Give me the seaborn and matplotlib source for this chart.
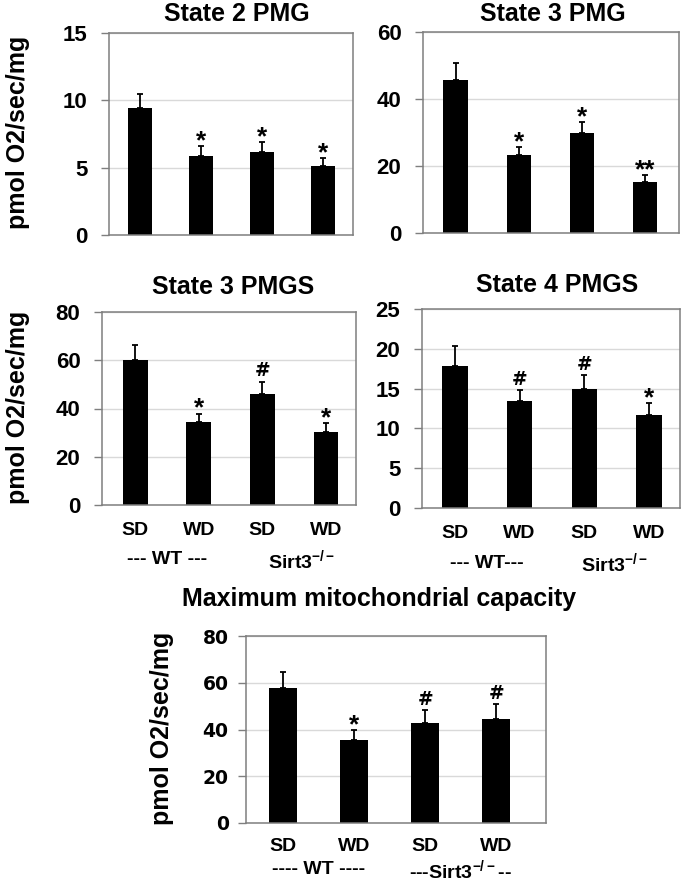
import numpy as np
import pandas as pd
import matplotlib
matplotlib.use("Agg")
import matplotlib.pyplot as plt
import seaborn as sns

# ---------------- data ----------------
groups = ["WT SD", "WT WD", "Sirt3 SD", "Sirt3 WD"]
diet_labels = ["SD", "WD", "SD", "WD"]

s2pmg_mean = [9.45, 5.9, 6.2, 5.1]
s2pmg_err = [1.0, 0.7, 0.7, 0.6]
s2pmg_sig = ["", "*", "*", "*"]
s2pmg_ticks = [0, 5, 10, 15]

s3pmg_mean = [45.6, 23.2, 29.9, 15.3]
s3pmg_err = [5.1, 2.4, 3.2, 1.9]
s3pmg_sig = ["", "*", "*", "**"]
s3pmg_ticks = [0, 20, 40, 60]

s3pmgs_mean = [59.9, 34.3, 45.9, 30.2]
s3pmgs_err = [6.4, 3.6, 5.1, 3.7]
s3pmgs_sig = ["", "*", "#", "*"]
s3pmgs_ticks = [0, 20, 40, 60, 80]

s4pmgs_mean = [17.9, 13.4, 14.9, 11.7]
s4pmgs_err = [2.4, 1.4, 1.8, 1.5]
s4pmgs_sig = ["", "#", "#", "*"]
s4pmgs_ticks = [0, 5, 10, 15, 20, 25]

maxcap_mean = [57.8, 35.5, 42.6, 44.7]
maxcap_err = [6.7, 4.2, 5.7, 6.2]
maxcap_sig = ["", "*", "#", "#"]
maxcap_ticks = [0, 20, 40, 60, 80]

titles = ["State 2 PMG", "State 3 PMG", "State 3 PMGS", "State 4 PMGS",
          "Maximum mitochondrial capacity"]
ylabel = "pmol O2/sec/mg"

# ---------------- style ----------------
sns.set_style("white")
plt.rcParams['font.family'] = ['Liberation Sans', 'DejaVu Sans']
plt.rcParams['mathtext.default'] = 'regular'
plt.rcParams['text.color'] = 'black'
plt.rcParams['xtick.color'] = 'black'
plt.rcParams['ytick.color'] = 'black'
plt.rcParams['axes.labelcolor'] = 'black'

W, H = 685, 883
fig = plt.figure(figsize=(W / 100, H / 100), dpi=100)


def rect(l, t, r, b):
    return [l / W, 1 - b / H, (r - l) / W, (b - t) / H]


SPINE = '#7f7f7f'
GRID = '#d9d9d9'


def panel(box, xlim, means, errs, sigs, ticks, tick_font, tick_size, tick_pad,
          bar_w=0.39, xlabels=False, group_pos=None, group_txt=None,
          group_dy=55, xl_pad=12):
    ax = fig.add_axes(rect(*box))
    df = pd.DataFrame({"group": groups, "value": means})
    sns.barplot(data=df, x="group", y="value", order=groups, color="black",
                saturation=1, width=bar_w, errorbar=None, ax=ax, zorder=2,
                edgecolor="black", linewidth=0)
    x = np.arange(len(means))
    ax.errorbar(x, means, yerr=[np.zeros(len(errs)), errs], fmt='none',
                ecolor='black', elinewidth=1.3, capsize=2.5, capthick=1.3,
                zorder=3)
    for xi, m, e, s in zip(x, means, errs, sigs):
        if s:
            if '*' in s:
                fs, dy, fam = 19, 5, 'Liberation Sans'
            else:
                fs, dy, fam = 13.5, 11, 'DejaVu Sans'
            ax.annotate(s, (xi, m + e), xytext=(0, dy), textcoords='offset pixels',
                        ha='center', va='center', fontsize=fs, family=fam,
                        fontweight='bold', color='black')
    ax.set_xlim(*xlim)
    ax.set_ylim(ticks[0], ticks[-1])
    ax.set_yticks(ticks)
    ax.set_yticklabels([str(t) for t in ticks])
    for lab in ax.get_yticklabels():
        lab.set_fontfamily(tick_font)
        lab.set_fontweight('bold')
        lab.set_fontsize(tick_size)
        lab.set_color('black')
    ax.yaxis.grid(True, color=GRID, lw=1)
    ax.xaxis.grid(False)
    ax.set_axisbelow(True)
    for sp in ax.spines.values():
        sp.set_visible(True)
        sp.set_color(SPINE)
        sp.set_linewidth(1.1)
    ax.tick_params(axis='y', direction='out', length=5.5, width=1,
                   color=SPINE, pad=tick_pad, left=True)
    ax.tick_params(axis='x', length=0, pad=xl_pad)
    ax.set_xlabel("")
    ax.set_ylabel("")
    ax.set_xticks(x)
    if xlabels:
        ax.set_xticklabels(diet_labels)
        for lab in ax.get_xticklabels():
            lab.set_fontweight('bold')
            lab.set_fontsize(14)
            lab.set_color('black')
        for gx, gt in zip(group_pos, group_txt):
            ax.annotate(gt, (gx, 0), xycoords=('data', 'axes fraction'),
                        xytext=(0, -group_dy), textcoords='offset pixels',
                        ha='center', va='center', fontsize=14,
                        fontweight='bold')
    else:
        ax.set_xticklabels([])
    return ax


# panel 1
panel((109, 33, 353, 235), (-0.51, 3.49), s2pmg_mean, s2pmg_err, s2pmg_sig,
      s2pmg_ticks, 'Liberation Sans', 16, 10)
# panel 2
panel((423, 32, 679, 233), (-0.52, 3.54), s3pmg_mean, s3pmg_err, s3pmg_sig,
      s3pmg_ticks, 'Liberation Sans', 16, 10)
# panel 3
panel((102, 312, 356, 505), (-0.52, 3.47), s3pmgs_mean, s3pmgs_err, s3pmgs_sig,
      s3pmgs_ticks, 'Liberation Sans', 16, 10, xlabels=True,
      group_pos=[0.5, 2.62], group_txt=["--- WT ---", "Sirt3$^{-/-}$"])
# panel 4
panel((422, 309, 680, 508), (-0.51, 3.48), s4pmgs_mean, s4pmgs_err, s4pmgs_sig,
      s4pmgs_ticks, 'Liberation Sans', 16, 10, xlabels=True,
      group_pos=[0.5, 2.47], group_txt=["--- WT---", "Sirt3$^{-/-}$"])
# panel 5
panel((246, 636, 546, 823), (-0.52, 3.70), maxcap_mean, maxcap_err, maxcap_sig,
      maxcap_ticks, 'DejaVu Sans', 13.5, 7, xlabels=True,
      group_pos=[0.5, 2.5], group_txt=["---- WT ----", "---Sirt3$^{-/-}$--"],
      group_dy=47, xl_pad=11)

# titles
for (tx, ty), t in zip([(237, 14), (553, 14), (233, 287), (557, 285), (379, 599)],
                       titles):
    fig.text(tx / W, 1 - ty / H, t, ha='center', va='center', fontsize=18,
             fontweight='bold')

# y labels
for (lx, ly) in [(18, 132), (18, 407), (162, 728)]:
    fig.text(lx / W, 1 - ly / H, ylabel, ha='center', va='center', fontsize=18,
             fontweight='bold', rotation=90)

fig.savefig("out.png", dpi=100)
